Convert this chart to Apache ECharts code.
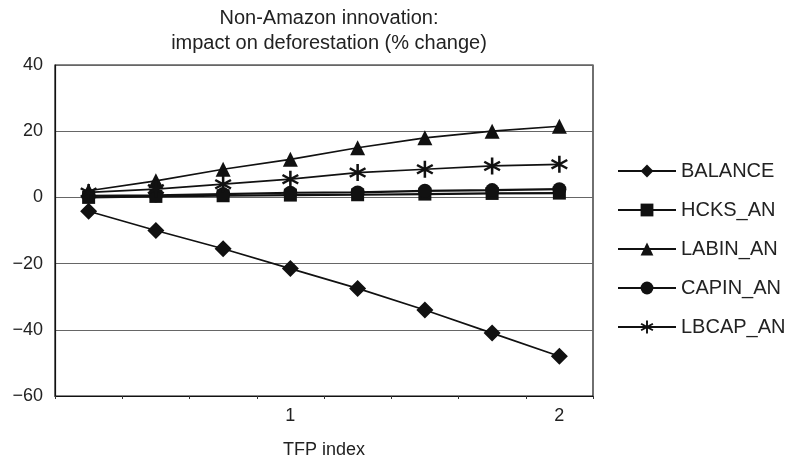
<!DOCTYPE html>
<html>
<head>
<meta charset="utf-8">
<script src="https://cdn.jsdelivr.net/npm/echarts@6/dist/echarts.min.js"></script>
<style>html,body{margin:0;padding:0;background:#fff}#c{width:791px;height:464px}</style>
</head>
<body>
<div id="c"></div>
<script>
const categories = ['0.25','0.5','0.75','1','1.25','1.5','1.75','2'];
const shownTickLabels = ['1','2'];
const balance = [-4.2, -10, -15.5, -21.5, -27.5, -34, -41, -48];
const hcksAn  = [0, 0.3, 0.5, 0.7, 0.8, 1.0, 1.2, 1.3];
const labinAn = [2, 5, 8.5, 11.5, 15, 18, 20, 21.5];
const capinAn = [0.5, 0.6, 1.0, 1.4, 1.5, 2.0, 2.2, 2.5];
const lbcapAn = [1.5, 2.5, 4, 5.5, 7.5, 8.5, 9.5, 10];
const yTicks = {min: -60, max: 40, step: 20};

const asterisk = 'path://M-1.4,-10L1.4,-10L1.4,10L-1.4,10Z' +
  'M-9.36,-3.79L-7.96,-6.21L9.36,3.79L7.96,6.21Z' +
  'M-9.36,3.79L7.96,-6.21L9.36,-3.79L-7.96,6.21Z';

const font = '"Liberation Sans", Arial, sans-serif';
function mk(name, data, symbol, size, width) {
  return {
    name, type: 'line', data, symbol, symbolSize: size,
    lineStyle: {color: '#111', width: width},
    itemStyle: {color: '#111'},
    emphasis: {disabled: true},
    animation: false
  };
}
const chart = echarts.init(document.getElementById('c'));
chart.setOption({
  backgroundColor: '#fff',
  animation: false,
  title: {
    text: 'Non-Amazon innovation:\nimpact on deforestation (% change)',
    left: 324, top: 1, textAlign: 'center',
    textStyle: {fontFamily: font, fontSize: 20, fontWeight: 'normal', color: '#222', lineHeight: 25}
  },
  grid: {left: 55, right: 198, top: 65, bottom: 61, show: true, borderColor: '#111', borderWidth: 1.2, backgroundColor: 'transparent'},
  legend: {
    orient: 'vertical', left: 612, top: 156,
    itemWidth: 58, itemHeight: 16, itemGap: 19,
    textStyle: {fontFamily: font, fontSize: 20, color: '#222'},
    data: ['BALANCE','HCKS_AN','LABIN_AN','CAPIN_AN','LBCAP_AN']
  },
  xAxis: {
    type: 'category', data: categories, boundaryGap: true,
    name: 'TFP index', nameLocation: 'middle', nameGap: 45,
    nameTextStyle: {fontFamily: font, fontSize: 18, color: '#222'},
    axisLine: {onZero: false, lineStyle: {color: '#111', width: 1.2}},
    axisTick: {show: true, interval: 0, length: 3, lineStyle: {color: '#333'}},
    axisLabel: {
      interval: (i, v) => shownTickLabels.indexOf(v) >= 0,
      fontFamily: font, fontSize: 18, color: '#222', margin: 11
    },
    splitLine: {show: false}
  },
  yAxis: {
    type: 'value', min: yTicks.min, max: yTicks.max, interval: yTicks.step,
    axisLine: {show: true, lineStyle: {color: '#111', width: 1.2}},
    axisTick: {show: false},
    axisLabel: {fontFamily: font, fontSize: 18, color: '#222', margin: 12,
      formatter: v => (v < 0 ? '\u2212' + Math.abs(v) : String(v))},
    splitLine: {show: true, lineStyle: {color: '#666', width: 1}}
  },
  series: [
    mk('BALANCE', balance, 'diamond', 17, 1.7),
    mk('HCKS_AN', hcksAn, 'rect', 13, 2.2),
    mk('LABIN_AN', labinAn, 'triangle', 15, 1.7),
    mk('CAPIN_AN', capinAn, 'circle', 14, 2.2),
    mk('LBCAP_AN', lbcapAn, asterisk, 17, 1.7)
  ]
});
</script>
</body>
</html>
